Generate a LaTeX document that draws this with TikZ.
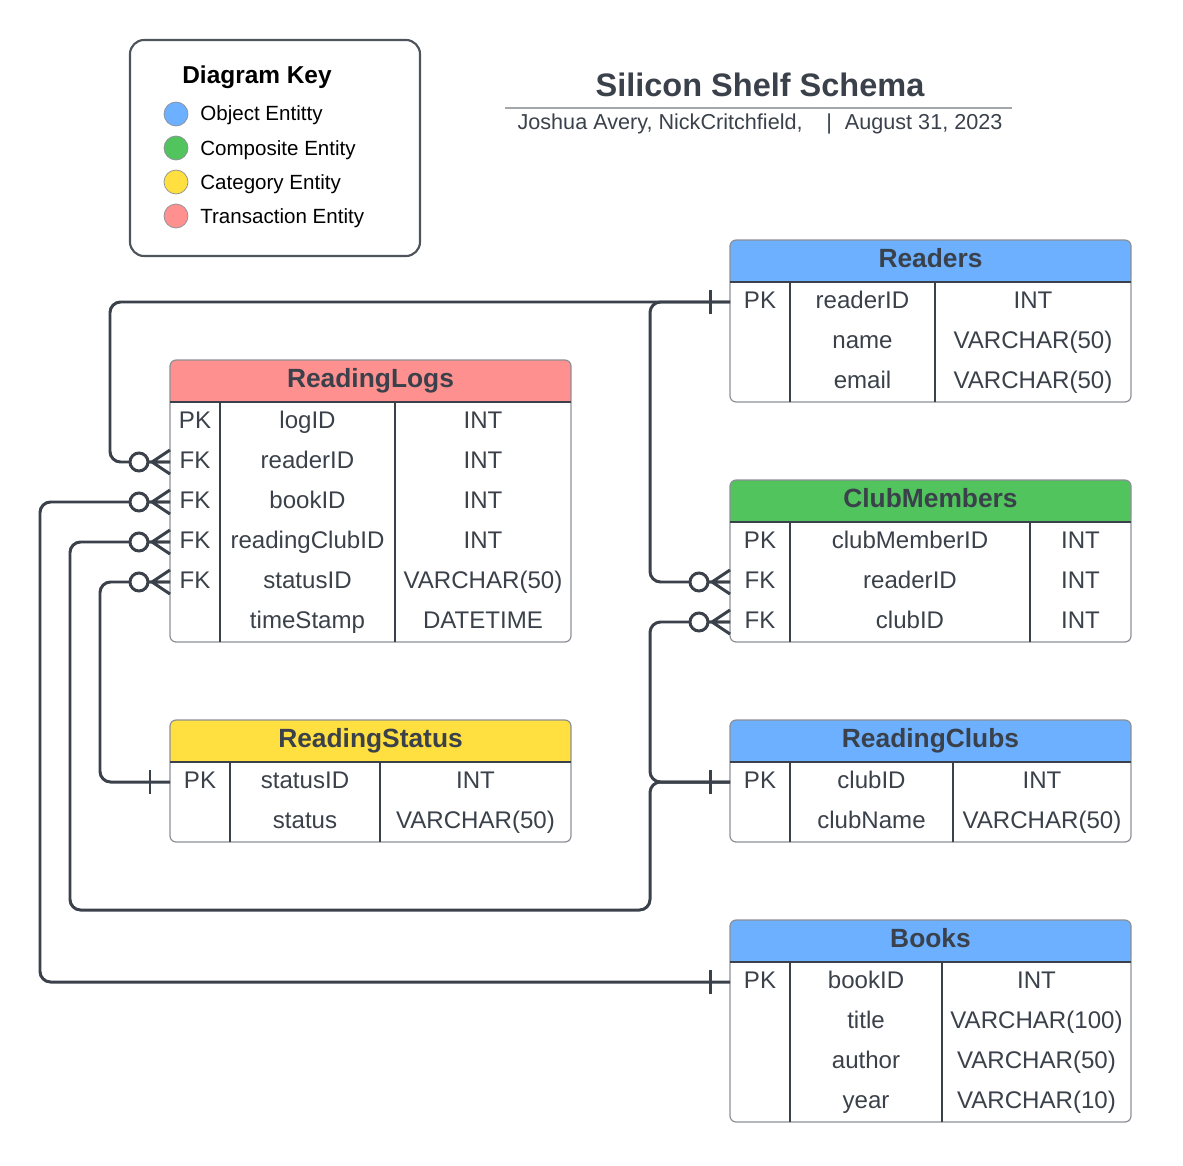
\documentclass[tikz,border=0pt]{standalone}
\usepackage{fontspec}
\setmainfont{Liberation Sans}
\usepackage{tikz}
\usetikzlibrary{positioning}
\definecolor{ink}{HTML}{3A414A}
\definecolor{edge}{HTML}{8C9096}
\definecolor{objent}{HTML}{6CB0FF}
\definecolor{compent}{HTML}{52C45E}
\definecolor{catent}{HTML}{FFE040}
\definecolor{transent}{HTML}{FF9090}
\tikzset{cell/.style={anchor=base, inner sep=0pt, text=ink, font=\fontsize{13.7}{16}\selectfont},
         hdr/.style={anchor=base, inner sep=0pt, text=ink, font=\bfseries\fontsize{15}{18}\selectfont},
         frame/.style={draw=edge, line width=0.7pt, rounded corners=3.5pt},
         grid/.style={draw=ink, line width=0.7pt},
         link/.style={draw=ink, line width=1.7pt},
         dot/.style={circle, draw=edge, line width=0.4pt, minimum size=0.48cm, inner sep=0pt},
         keytxt/.style={anchor=base west, inner sep=0pt, font=\fontsize{11.7}{14}\selectfont},
         manyend/.pic={\draw[link] (-18,0) -- (0,-12) (-18,0) -- (0,12) (-22,0) -- (0,0);
                       \draw[link, fill=white] (-31,0) circle (9);},
         oneend/.pic={\draw[link] (-20,-12) -- (-20,12);}}
% #1 name, #2 left, #3 top, #4 rows, #5/#6 column lines, #7 colour, #8 title, #9 rows
\newcommand{\entity}[9]{%
  \fill[#7, rounded corners=3.5pt] (#2,#3) rectangle (#2+401,#3+42);
  \fill[#7] (#2,#3+20) rectangle (#2+401,#3+42);
  \draw[frame] (#2,#3) rectangle (#2+401,#3+42+40*#4);
  \draw[grid] (#2,#3+42) -- (#2+401,#3+42);
  \draw[grid] (#5,#3+42) -- (#5,#3+42+40*#4);
  \draw[grid] (#6,#3+42) -- (#6,#3+42+40*#4);
  \node[hdr] (#1) at (#2+200.5,#3+27) {#8};
  \foreach \k/\f/\t [count=\i] in {#9}{
    \node[cell] (#1-k\i) at ({(#2+#5)/2},#3+28+40*\i) {\k};
    \node[cell] (#1-f\i) at ({(#5+#6)/2},#3+28+40*\i) {\f};
    \node[cell] (#1-t\i) at ({(#6+#2+401)/2},#3+28+40*\i) {\t};
    \coordinate (#1-\i) at (#2,#3+22+40*\i);
  }}

\begin{document}
\begin{tikzpicture}[x=0.02cm, y=-0.02cm]
  \useasboundingbox (0,0) rectangle (1183,1166);

  % key
  \draw[draw=ink!90, line width=1.2pt, rounded corners=8pt] (130,40) rectangle (420,256);
  \node[anchor=base, inner sep=0pt, font=\bfseries\fontsize{13.9}{16}\selectfont] (keyttl) at (257,84) {Diagram Key};
  \foreach \c/\t [count=\i] in {objent/Object Entitty, compent/Composite Entity,
                                catent/Category Entity, transent/Transaction Entity}{
    \node[dot, fill=\c] (dot\i) at (176,80+34*\i) {};
    \node[keytxt] (key\i) at (200,87+34*\i) {\t};
  }

  % title
  \node[anchor=base, inner sep=0pt, text=ink, font=\bfseries\fontsize{18.5}{22}\selectfont] (ttl) at (760,96) {Silicon Shelf Schema};
  \draw[draw=edge!80, line width=1.1pt] (505,108) -- (1012,108);
  \node[anchor=base, inner sep=0pt, text=ink, font=\fontsize{12.3}{14}\selectfont] (sub) at (760,130)
       {Joshua Avery, NickCritchfield,\hspace{1.1em}|\hspace{0.6em}August 31, 2023};

  % tables
  \entity{rd}{730}{240}{3}{790}{935}{objent}{Readers}
         {PK/readerID/INT, /name/VARCHAR(50), /email/VARCHAR(50)}
  \entity{rl}{170}{360}{6}{220}{395}{transent}{ReadingLogs}
         {PK/logID/INT, FK/readerID/INT, FK/bookID/INT, FK/readingClubID/INT,
          FK/statusID/VARCHAR(50), /timeStamp/DATETIME}
  \entity{cm}{730}{480}{3}{790}{1030}{compent}{ClubMembers}
         {PK/clubMemberID/INT, FK/readerID/INT, FK/clubID/INT}
  \entity{rs}{170}{720}{2}{230}{380}{catent}{ReadingStatus}
         {PK/statusID/INT, /status/VARCHAR(50)}
  \entity{rc}{730}{720}{2}{790}{953}{objent}{ReadingClubs}
         {PK/clubID/INT, /clubName/VARCHAR(50)}
  \entity{bk}{730}{920}{4}{790}{942}{objent}{Books}
         {PK/bookID/INT, /title/VARCHAR(100), /author/VARCHAR(50), /year/VARCHAR(10)}

  % relations
  \draw[link, rounded corners=6pt] (rd-1) -- ++(-620,0) |- (rl-2);
  \draw[link, rounded corners=6pt] (rd-1) -- ++(-80,0) |- (cm-2);
  \draw[link, rounded corners=6pt] (bk-1) -- ++(-690,0) |- (rl-3);
  \draw[link, rounded corners=6pt] (rc-1) -- ++(-80,0) |- (cm-3);
  \draw[link, rounded corners=6pt] (rc-1) -- ++(-80,0) |- (70,910) |- (rl-4);
  \draw[link, rounded corners=6pt] (rs-1) -- ++(-70,0) |- (rl-5);

  \foreach \p in {rl-2, rl-3, rl-4, rl-5, cm-2, cm-3}
    \pic at (\p) {manyend};
  \foreach \p in {rd-1, bk-1, rc-1, rs-1}
    \pic at (\p) {oneend};
\end{tikzpicture}
\end{document}
